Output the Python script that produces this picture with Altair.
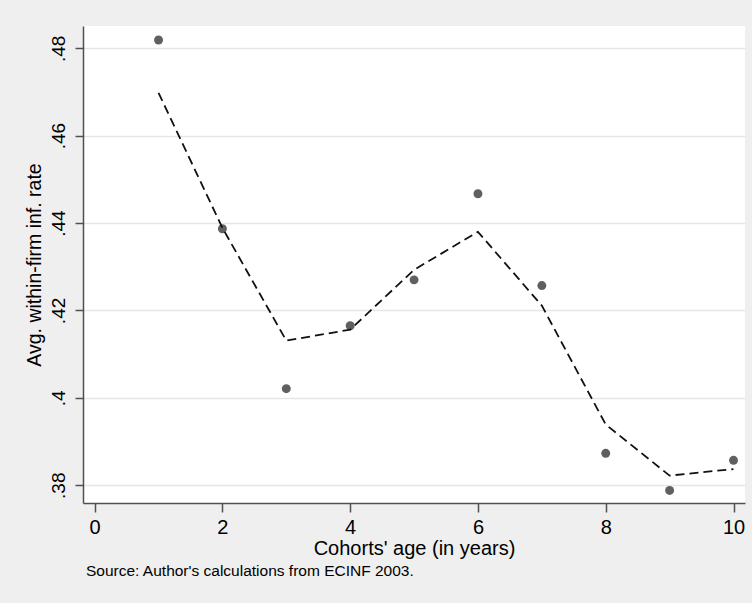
import altair as alt
import pandas as pd

ages = [1, 2, 3, 4, 5, 6, 7, 8, 9, 10]
observed = [0.4819, 0.4387, 0.4021, 0.4165, 0.4270, 0.4467, 0.4257, 0.3873, 0.3788, 0.3857]
fitted = [0.4698, 0.4389, 0.4131, 0.4156, 0.4293, 0.4380, 0.4211, 0.3939, 0.3822, 0.3837]
x_ticks = [0, 2, 4, 6, 8, 10]
y_ticks = [0.38, 0.40, 0.42, 0.44, 0.46, 0.48]

df = pd.DataFrame({"age": ages, "obs": observed, "fit": fitted})

regular = "Liberation Sans, Arial, Helvetica"

x_enc = alt.X(
    "age:Q",
    scale=alt.Scale(domain=[-0.182, 10.18], nice=False, zero=False),
    axis=alt.Axis(
        values=x_ticks, format="d", title="Cohorts' age (in years)", grid=False,
        labelFont=regular, labelFontSize=20, labelColor="#000000", labelPadding=5,
        titleFont=regular, titleFontSize=20, titleFontWeight="normal", titleColor="#000000",
        titlePadding=1, tickSize=9, tickColor="#505050", tickWidth=1.5,
        domainColor="#505050", domainWidth=1.5, labelFlush=False,
    ),
)

y_axis = alt.Axis(
    values=y_ticks, title="Avg. within-firm inf. rate",
    labelExpr="replace(format(datum.value, '.2~f'), /^0/, '')",
    labelAngle=270, labelAlign="center", labelBaseline="bottom",
    labelFont=regular, labelFontSize=19, labelColor="#000000", labelPadding=7,
    titleFont=regular, titleFontSize=19.5, titleFontWeight="normal", titleColor="#000000",
    titlePadding=5, tickSize=8, tickColor="#505050", tickWidth=1.5,
    domainColor="#505050", domainWidth=1.5,
    grid=True, gridColor="#e6e6e6", gridWidth=1.5, labelFlush=False,
)
y_scale = alt.Scale(domain=[0.37593, 0.4851], nice=False, zero=False)

base = alt.Chart(df)

line = base.mark_line(color="#111111", strokeWidth=1.8, strokeDash=[9, 5]).encode(
    x=x_enc,
    y=alt.Y("fit:Q", scale=y_scale, axis=y_axis),
)

points = base.mark_circle(color="#606060", opacity=1, size=80).encode(
    x=alt.X("age:Q"),
    y=alt.Y("obs:Q"),
)

chart = (
    alt.layer(points, line)
    .properties(
        width=662,
        height=477,
        autosize=alt.AutoSizeParams(type="none"),
        padding={"left": 83, "top": 26, "right": 7, "bottom": 100},
        background="#efefef",
        title=alt.TitleParams(
            "Source: Author's calculations from ECINF 2003.",
            orient="bottom", anchor="start", frame="group", offset=6, dx=3,
            font=regular, fontSize=15.5, fontWeight="normal", color="#000000",
        ),
    )
    .configure_view(fill="#ffffff", stroke=None)
)

chart.save("out.html", embed_options={"renderer": "svg", "actions": False})
